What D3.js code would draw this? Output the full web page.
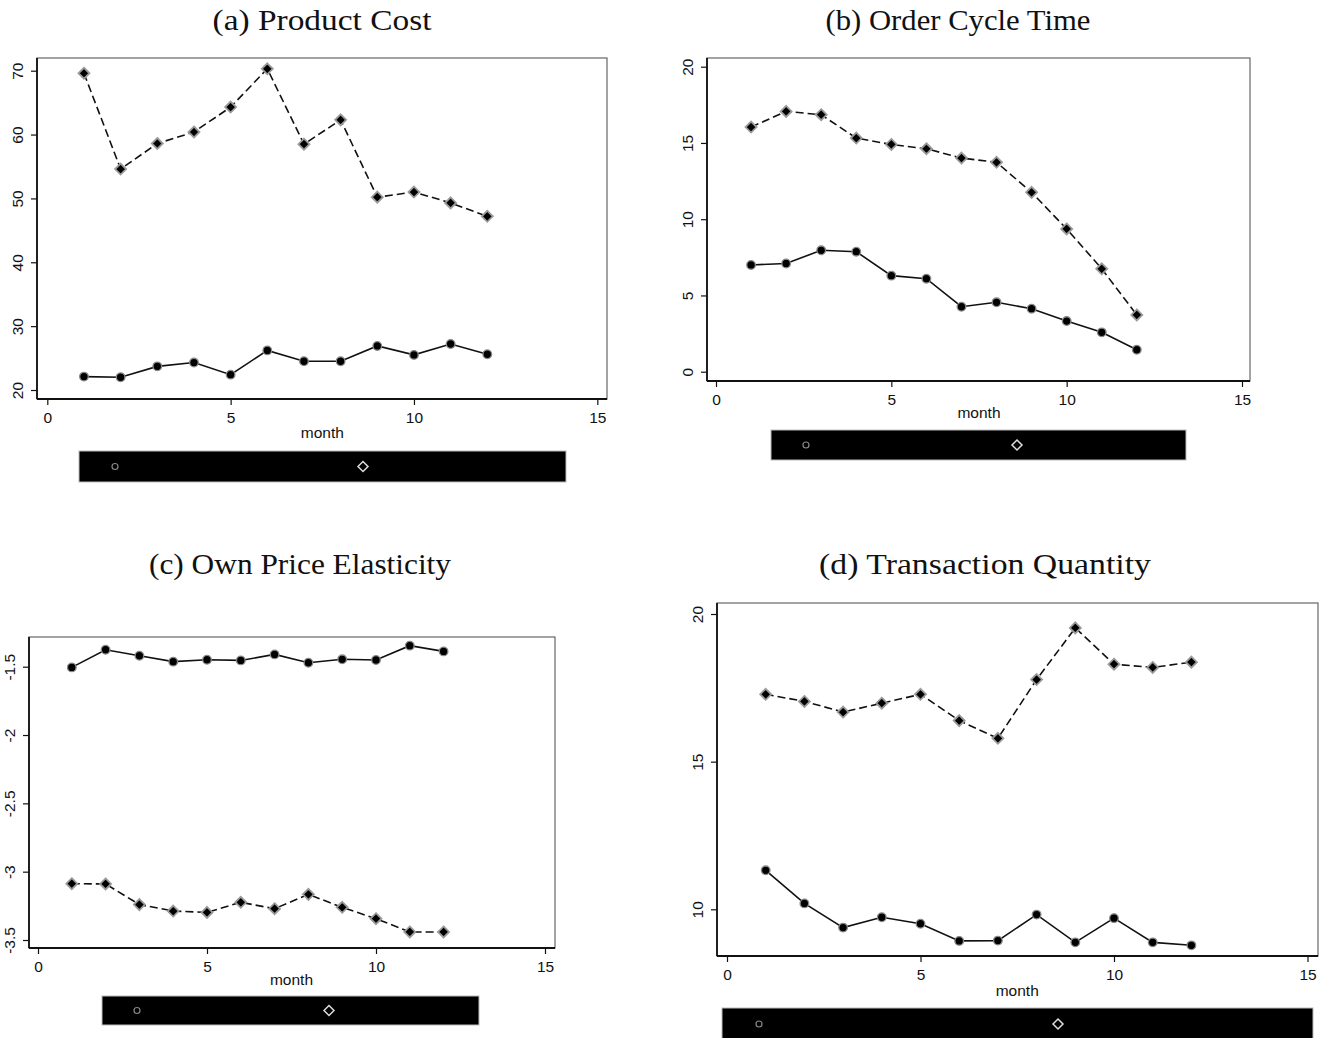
<!DOCTYPE html>
<html>
<head>
<meta charset="utf-8">
<script src="https://cdn.jsdelivr.net/npm/d3@7"></script>
<style>
  html, body { margin: 0; padding: 0; background: #fff; }
  svg { display: block; }
</style>
</head>
<body>
<svg id="chart" width="1332" height="1038"></svg>
<script>
// ---------------- data ----------------
const months = [1, 2, 3, 4, 5, 6, 7, 8, 9, 10, 11, 12];
const xTicks = [0, 5, 10, 15];

const titles = ["(a) Product Cost", "(b) Order Cycle Time", "(c) Own Price Elasticity", "(d) Transaction Quantity"];
const xLabel = "month";

// (a) Product Cost
const costSolid  = [22.1, 22.0, 23.7, 24.3, 22.4, 26.2, 24.5, 24.5, 26.9, 25.5, 27.2, 25.6];
const costDashed = [69.6, 54.6, 58.6, 60.4, 64.3, 70.3, 58.5, 62.3, 50.2, 51.0, 49.3, 47.2];
const costTicks  = [20, 30, 40, 50, 60, 70];

// (b) Order Cycle Time
const cycleSolid  = [7.0, 7.1, 7.96, 7.87, 6.3, 6.1, 4.26, 4.55, 4.13, 3.32, 2.58, 1.44];
const cycleDashed = [16.04, 17.07, 16.85, 15.32, 14.9, 14.62, 14.01, 13.73, 11.76, 9.36, 6.75, 3.72];
const cycleTicks  = [0, 5, 10, 15, 20];

// (c) Own Price Elasticity
const elastSolid  = [-1.505, -1.376, -1.42, -1.463, -1.449, -1.454, -1.41, -1.471, -1.446, -1.451, -1.346, -1.388];
const elastDashed = [-3.088, -3.09, -3.241, -3.288, -3.298, -3.224, -3.271, -3.166, -3.261, -3.344, -3.441, -3.441];
const elastTicks  = [-3.5, -3, -2.5, -2, -1.5];

// (d) Transaction Quantity
const qtySolid  = [11.32, 10.2, 9.38, 9.73, 9.51, 8.93, 8.94, 9.82, 8.88, 9.7, 8.88, 8.78];
const qtyDashed = [17.28, 17.04, 16.68, 16.98, 17.28, 16.39, 15.79, 17.78, 19.53, 18.3, 18.19, 18.37];
const qtyTicks  = [10, 15, 20];

// ---------------- layout ----------------
const panels = [
  { title: titles[0], solid: costSolid, dashed: costDashed, yTicks: costTicks,
    frame: [37, 607, 58, 399], xr: [47.3, 597.3], yd: [20, 70], yr: [390, 70.7],
    titleXY: [322, 30], titleW: 219, monthY: 438,
    legend: [79, 451, 487, 31], legC: 115, legD: 363 },
  { title: titles[1], solid: cycleSolid, dashed: cycleDashed, yTicks: cycleTicks,
    frame: [707, 1250, 58, 381], xr: [716, 1242], yd: [0, 20], yr: [371.7, 66.7],
    titleXY: [958, 30], titleW: 265, monthY: 418,
    legend: [771, 430, 415, 30], legC: 806, legD: 1017 },
  { title: titles[2], solid: elastSolid, dashed: elastDashed, yTicks: elastTicks,
    frame: [29, 555, 637, 948], xr: [38, 545], yd: [-3.5, -1.5], yr: [940, 666.7],
    titleXY: [300, 574], titleW: 302, monthY: 985,
    legend: [102, 996, 377, 29], legC: 137, legD: 329 },
  { title: titles[3], solid: qtySolid, dashed: qtyDashed, yTicks: qtyTicks,
    frame: [717, 1318, 603, 956], xr: [727, 1307.5], yd: [10, 20], yr: [909.3, 614],
    titleXY: [985, 574], titleW: 332, monthY: 996,
    legend: [722, 1008, 591, 32], legC: 759, legD: 1058 }
];

const svg = d3.select("#chart");

function diamondPath(h) {
  return `M0,${-h}L${h},0L0,${h}L${-h},0Z`;
}

panels.forEach(p => {
  const g = svg.append("g");
  const [fx0, fx1, fy0, fy1] = p.frame;
  const x = d3.scaleLinear().domain([0, 15]).range(p.xr);
  const y = d3.scaleLinear().domain(p.yd).range(p.yr);

  // title
  g.append("text")
    .attr("x", p.titleXY[0]).attr("y", p.titleXY[1])
    .attr("text-anchor", "middle")
    .attr("font-family", "'Liberation Serif', 'DejaVu Serif', serif")
    .attr("font-size", 30)
    .attr("textLength", p.titleW)
    .attr("lengthAdjust", "spacingAndGlyphs")
    .attr("fill", "#111")
    .text(p.title);

  // frame
  g.append("rect")
    .attr("x", fx0).attr("y", fy0)
    .attr("width", fx1 - fx0).attr("height", fy1 - fy0)
    .attr("fill", "#fff").attr("stroke", "#666").attr("stroke-width", 1.2);

  // x axis
  const xAxis = d3.axisBottom(x).tickValues(xTicks).tickSize(6).tickPadding(7).tickFormat(d3.format("d"));
  const gx = g.append("g").attr("transform", `translate(0,${fy1})`).call(xAxis);
  gx.select(".domain").attr("d", `M${fx0},0H${fx1}`).attr("stroke", "#111").attr("stroke-width", 1.8);
  gx.selectAll(".tick line").attr("stroke", "#111").attr("stroke-width", 1.2);
  gx.selectAll(".tick text").attr("font-family", "'Liberation Sans', Arial, sans-serif")
    .attr("font-size", 15.5).attr("fill", "#111");

  // y axis
  const yAxis = d3.axisLeft(y).tickValues(p.yTicks).tickSize(6).tickFormat(d => String(d));
  const gy = g.append("g").attr("transform", `translate(${fx0},0)`).call(yAxis);
  gy.select(".domain").attr("d", `M0,${fy0}V${fy1}`).attr("stroke", "#111").attr("stroke-width", 1.8);
  gy.selectAll(".tick line").attr("stroke", "#111").attr("stroke-width", 1.2);
  gy.selectAll(".tick text")
    .attr("font-family", "'Liberation Sans', Arial, sans-serif")
    .attr("font-size", 15.5).attr("fill", "#111")
    .attr("x", null).attr("dy", null)
    .attr("text-anchor", "middle")
    .attr("transform", "translate(-14,0) rotate(-90)");

  // x label
  g.append("text")
    .attr("x", (p.xr[0] + p.xr[1]) / 2).attr("y", p.monthY)
    .attr("text-anchor", "middle")
    .attr("font-family", "'Liberation Sans', Arial, sans-serif")
    .attr("font-size", 15.5).attr("fill", "#111")
    .text(xLabel);

  const line = d3.line().x((d, i) => x(months[i])).y(d => y(d));

  // series lines
  g.append("path").datum(p.dashed).attr("d", line)
    .attr("fill", "none").attr("stroke", "#111").attr("stroke-width", 1.6)
    .attr("stroke-dasharray", "8,4");
  g.append("path").datum(p.solid).attr("d", line)
    .attr("fill", "none").attr("stroke", "#111").attr("stroke-width", 1.6);

  // markers
  g.selectAll(".dm").data(p.dashed).enter().append("path")
    .attr("transform", (d, i) => `translate(${x(months[i])},${y(d)})`)
    .attr("d", diamondPath(5.5))
    .attr("fill", "#000").attr("stroke", "#9a9a9a").attr("stroke-width", 1.8);
  g.selectAll(".cm").data(p.solid).enter().append("circle")
    .attr("cx", (d, i) => x(months[i])).attr("cy", d => y(d)).attr("r", 4.3)
    .attr("fill", "#000").attr("stroke", "#888").attr("stroke-width", 1.3);

  // legend
  const [lx, ly, lw, lh] = p.legend;
  g.append("rect").attr("x", lx).attr("y", ly).attr("width", lw).attr("height", lh)
    .attr("fill", "#000").attr("stroke", "#bbb").attr("stroke-width", 1);
  g.append("circle").attr("cx", p.legC).attr("cy", ly + lh / 2).attr("r", 3)
    .attr("fill", "none").attr("stroke", "#888").attr("stroke-width", 1.2);
  g.append("path").attr("transform", `translate(${p.legD},${ly + lh / 2})`)
    .attr("d", diamondPath(5))
    .attr("fill", "none").attr("stroke", "#ddd").attr("stroke-width", 1.5);
});
</script>
</body>
</html>
